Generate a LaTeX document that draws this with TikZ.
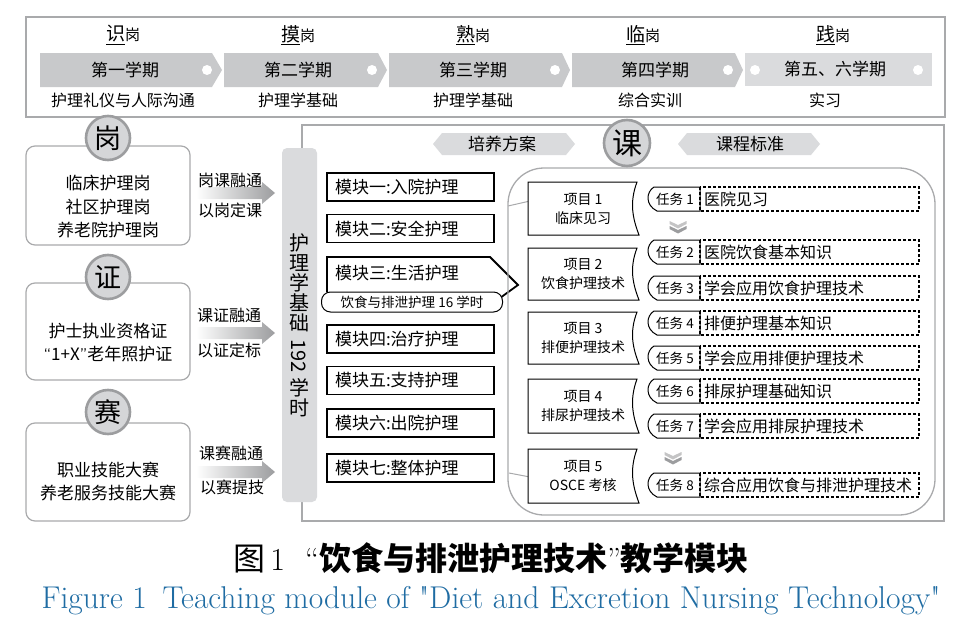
\documentclass[tikz,border=0pt]{standalone}
\usepackage{fontspec}
\newfontfamily\cjk{Noto Sans CJK SC}
\usetikzlibrary{calc}
\definecolor{bargray}{HTML}{C8C9CB}
\definecolor{barlight}{HTML}{DADBDD}
\definecolor{ringgray}{HTML}{9C9D9F}
\definecolor{framegray}{HTML}{A9AAAC}
\definecolor{capblue}{HTML}{1F6CA3}
\def\fs#1{\fontsize{#1}{#1}\selectfont}
\tikzset{
	zh/.style={font=\cjk\fs{#1}, inner sep=0pt},
	ring/.style={circle, fill=barlight!70!bargray, draw=ringgray, line width=2.6pt, minimum size=44pt, inner sep=0pt, font=\cjk\fs{27}},
	softbox/.style={draw=framegray, line width=1.2pt, rounded corners=9pt, fill=white},
	modbox/.style={draw, line width=1.8pt, minimum height=28pt, text width=151pt, inner xsep=8pt, inner ysep=0pt, align=left, font=\cjk\fs{17}},
	dashbox/.style={draw, line width=1.4pt, dash pattern=on 3pt off 2pt},
}

\begin{document}
\begin{tikzpicture}[x=1pt, y=-1pt]
		%%%%% START %%%%%
		\useasboundingbox (0,0) rectangle (959,629);
		
		%%%%% semesters
		\draw[framegray, line width=1.5pt] (26,17) rectangle (945,117);
		\fill[bargray] (40,53) -- (212,53) -- (222,70) -- (212,87) -- (40,87) -- cycle;
		\fill[bargray] (224,53) -- (378,53) -- (387,70) -- (378,87) -- (224,87) -- cycle;
		\fill[bargray] (389,53) -- (562,53) -- (570,70) -- (562,87) -- (389,87) -- cycle;
		\fill[bargray] (572,53) -- (735,53) -- (743,70) -- (735,87) -- (572,87) -- cycle;
		\fill[barlight] (745,53) rectangle (932,86);
		\foreach \x in {207,372,555,728,755,918}
			\fill[white] (\x,70) circle (5pt);
		
		\node[zh=19] (k1) at (123,35) {\underline{识}{\fs{15}岗}};
		\node[zh=19] (k2) at (298,35) {\underline{摸}{\fs{15}岗}};
		\node[zh=19] (k3) at (473,35) {\underline{熟}{\fs{15}岗}};
		\node[zh=19] (k4) at (643,35) {\underline{临}{\fs{15}岗}};
		\node[zh=19] (k5) at (833,35) {\underline{践}{\fs{15}岗}};
		
		\node[zh=17] (s1) at (125,70) {第一学期};
		\node[zh=17] (s2) at (298,70) {第二学期};
		\node[zh=17] (s3) at (473,70) {第三学期};
		\node[zh=17] (s4) at (655,70) {第四学期};
		\node[zh=17] (s5) at (835,69) {第五、六学期};
		
		\node[zh=16] (c1) at (123,100) {护理礼仪与人际沟通};
		\node[zh=16] (c2) at (298,100) {护理学基础};
		\node[zh=16] (c3) at (473,100) {护理学基础};
		\node[zh=16] (c4) at (650,100) {综合实训};
		\node[zh=16] (c5) at (825,100) {实习};
		
		%%%%% post, certificate, contest
		\draw[softbox] (26,146) rectangle (190,245);
		\node[ring] (gang) at (108,138) {岗};
		\node[zh=17] (g1) at (108,183) {临床护理岗};
		\node[zh=17] (g2) at (108,207) {社区护理岗};
		\node[zh=17] (g3) at (108,230) {养老院护理岗};
		
		\draw[softbox] (26,283) rectangle (190,380);
		\node[ring] (zheng) at (108,277) {证};
		\node[zh=17] (z1) at (108,331) {护士执业资格证};
		\node[zh=17] (z2) at (108,354) {\textsf{“}1+X\textsf{”}老年照护证};
		
		\draw[softbox] (26,423) rectangle (190,521);
		\node[ring] (sai) at (108,412) {赛};
		\node[zh=17] (a1) at (108,470) {职业技能大赛};
		\node[zh=17] (a2) at (108,493) {养老服务技能大赛};
		
		\shade[left color=white, right color=ringgray] (196,187) -- (262,187) -- (262,182) -- (275,193) -- (262,204) -- (262,199) -- (196,199) -- cycle;
		\shade[left color=white, right color=ringgray] (196,327) -- (262,327) -- (262,322) -- (275,333) -- (262,344) -- (262,339) -- (196,339) -- cycle;
		\shade[left color=white, right color=ringgray] (196,466) -- (262,466) -- (262,461) -- (275,472) -- (262,483) -- (262,478) -- (196,478) -- cycle;
		\node[zh=16] (l1) at (230,180) {岗课融通};
		\node[zh=16] (l2) at (230,210) {以岗定课};
		\node[zh=16] (l3) at (229,315) {课证融通};
		\node[zh=16] (l4) at (229,350) {以证定标};
		\node[zh=16] (l5) at (231,453) {课赛融通};
		\node[zh=16] (l6) at (232,487) {以赛提技};
		
		%%%%% course frame
		\draw[framegray, line width=1.5pt] (302,125) rectangle (944,521);
		\fill[barlight, rounded corners=5pt] (282,148) rectangle (317,502);
		\foreach \c/\y [count=\i] in {护/243,理/263,学/283,基/303,础/323,学/388,时/408}
			\node[zh=20] (v\i) at (299,\y) {\c};
		\node[zh=20, rotate=-90] (vnum) at (299,356) {192};
		
		\fill[barlight] (433,144) -- (442,133) -- (566,133) -- (575,144) -- (566,155) -- (442,155) -- cycle;
		\node[zh=17] (plan) at (502,144) {培养方案};
		\fill[barlight] (678,144) -- (687,133) -- (811,133) -- (820,144) -- (811,155) -- (687,155) -- cycle;
		\node[zh=17] (std) at (750,144) {课程标准};
		
		%%%%% modules
		\node[modbox] (m1) at (410.5,187) {模块一:入院护理};
		\node[modbox] (m2) at (410.5,228.5) {模块二:安全护理};
		\draw[line width=1.8pt] (327,292) -- (327,257) -- (490,257) -- (518,285) -- (500,298);
		\node[zh=17, anchor=west] (m3) at (335,273) {模块三:生活护理};
		\node[draw, line width=1pt, rounded corners=9pt, fill=white, zh=13.5, minimum width=181pt, minimum height=20pt] (m3sub) at (412,302) {饮食与排泄护理 16 学时};
		\node[modbox] (m4) at (410.5,339) {模块四:治疗护理};
		\node[modbox] (m5) at (410.5,380.5) {模块五:支持护理};
		\node[modbox] (m6) at (410.5,423) {模块六:出院护理};
		\node[modbox] (m7) at (410.5,468) {模块七:整体护理};
		
		%%%%% projects and tasks
		\draw[framegray, line width=1.3pt, rounded corners=36pt] (508,168) rectangle (935,515);
		\node[ring, minimum size=46pt, font=\cjk\fs{30}] (ke) at (627,143) {课};
		\draw[framegray, line width=1pt] (508,206) -- (530,201);
		\draw[framegray, line width=1pt] (509,473) -- (530,477);
		
		\foreach \ya/\yb/\n/\ta/\tb in {182/235/1/项目 1/临床见习, 248/300/2/项目 2/饮食护理技术, 312/364/3/项目 3/排便护理技术, 379/433/4/项目 4/排尿护理技术, 449/503/5/项目 5/OSCE 考核}{
			\draw[line width=1pt, fill=white] (528,\ya) -- (637,\ya) .. controls (629,{\ya+0.4*(\yb-\ya)}) and (633,{\yb-0.3*(\yb-\ya)}) .. (639,\yb) -- (528,\yb) -- cycle;
			\node[zh=14] (p\n) at (583,{(\ya+\yb)/2-9.5}) {\ta};
			\node[zh=14] (q\n) at (583,{(\ya+\yb)/2+9.5}) {\tb};
		}
		
		\foreach \yc/\n/\tx in {199/1/医院见习, 252/2/医院饮食基本知识, 288/3/学会应用饮食护理技术, 323/4/排便护理基本知识, 358/5/学会应用排便护理技术, 391/6/排尿护理基础知识, 426/7/学会应用排尿护理技术, 485/8/综合应用饮食与排泄护理技术}{
			\draw[line width=1pt] (700,\yc-12) -- (654,\yc-12) .. controls (646,\yc-7) and (645,\yc+6) .. (657,\yc+12) -- (700,\yc+12) -- cycle;
			\draw[dashbox] (700,\yc-12) rectangle (919,\yc+12);
			\node[zh=13.5] (t\n) at (675,\yc) {任务 \n};
			\node[zh=16, anchor=west] (w\n) at (704,\yc) {\tx};
		}
		
		\foreach \cx/\cy in {678/221, 673/452}{
			\fill[ringgray!60] (\cx-8.5,\cy) -- (\cx,\cy+4) -- (\cx+8.5,\cy) -- (\cx+8.5,\cy+3) -- (\cx,\cy+7.5) -- (\cx-8.5,\cy+3) -- cycle;
			\fill[ringgray] (\cx-8.5,\cy+5) -- (\cx,\cy+9) -- (\cx+8.5,\cy+5) -- (\cx+8.5,\cy+8) -- (\cx,\cy+12.5) -- (\cx-8.5,\cy+8) -- cycle;
		}
		
		%%%%% caption
		\node[font=\fs{32}, inner sep=0pt] (capzh) at (491,558) {{\cjk 图}\,1\hspace{20pt}“{\cjk\bfseries 饮食与排泄护理技术}”{\cjk\bfseries 教学模块}};
		\node[text=capblue, font=\fs{31.5}, inner sep=0pt] (capen) at (491,601) {Figure 1\enspace Teaching module of \textquotedbl Diet and Excretion Nursing Technology\textquotedbl};
		%%%%% END %%%%%
\end{tikzpicture}
\end{document}
